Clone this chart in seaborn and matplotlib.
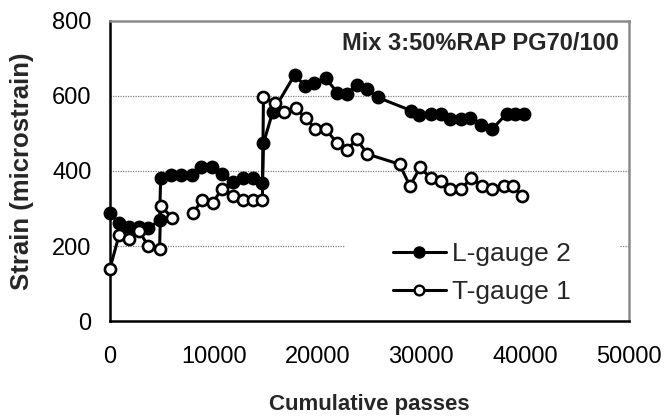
import numpy as np
import pandas as pd
import matplotlib
matplotlib.use("Agg")
import matplotlib.pyplot as plt
from matplotlib.lines import Line2D
from matplotlib.patches import Rectangle
import seaborn as sns

# L-gauge 2 (longitudinal strain)
l_passes = [0, 900, 1900, 2800, 3700, 4800, 4900, 5900, 6900, 7900, 8800, 9800,
            10800, 11900, 12800, 13800, 14700, 14800, 15700, 17800, 18800, 19700,
            20800, 21900, 22800, 23800, 24800, 25800, 29000, 29800, 30900, 31900,
            32800, 33800, 34700, 35700, 36800, 38200, 39000, 39900]
l_strain = [288, 261, 251, 251, 247, 269, 380, 389, 389, 389, 411, 411,
            392, 371, 380, 380, 369, 474, 558, 656, 627, 635,
            647, 609, 605, 629, 618, 596, 561, 549, 552, 552,
            539, 539, 541, 523, 511, 552, 552, 552]

# T-gauge 1 (transverse strain); NaN marks a missing reading
t_passes = [0, 900, 1900, 2800, 3700, 4800, 4900, 6000, 7000, 8000, 8900, 9900,
            10800, 11900, 12800, 13800, 14700, 14800, 15900, 16800, 17900, 18900,
            19800, 20800, 21900, 22800, 23800, 24800, 27900, 28900, 29900, 30900,
            31900, 32800, 33800, 34800, 35800, 36800, 38000, 38800, 39700]
t_strain = [138, 229, 219, 240, 201, 192, 307, 276, np.nan, 287, 323, 314,
            353, 333, 323, 323, 323, 598, 580, 558, 567, 540,
            511, 511, 474, 456, 484, 445, 418, 360, 410, 380,
            372, 352, 352, 380, 361, 352, 361, 361, 333]

x_ticks = [0, 10000, 20000, 30000, 40000, 50000]
y_ticks = [0, 200, 400, 600, 800]

sns.set_theme(style="white")
plt.rcParams["font.family"] = ["Liberation Sans", "DejaVu Sans"]

df_l = pd.DataFrame({"passes": l_passes, "strain": l_strain, "seg": 0})
df_t = pd.DataFrame({"passes": t_passes, "strain": t_strain})
# split the transverse series into runs where a reading is missing
df_t["seg"] = df_t["strain"].isna().cumsum()
df_t = df_t.dropna()

fig = plt.figure(figsize=(6.65, 4.17), dpi=100)
ax = fig.add_axes([0.165, 0.23, 0.781, 0.72])

for y in [200, 400, 600]:
    ax.axhline(y, color="#808080", lw=0.9, ls=(0, (1, 1)), zorder=0)

sns.lineplot(data=df_l, x="passes", y="strain", units="seg", estimator=None,
             sort=False, ax=ax, color="black", lw=2.2, marker="o", markersize=8.5,
             markerfacecolor="black", markeredgecolor="black", markeredgewidth=1.5,
             legend=False, zorder=3, clip_on=False)
sns.lineplot(data=df_t, x="passes", y="strain", units="seg", estimator=None,
             sort=False, ax=ax, color="black", lw=2.2, marker="o", markersize=8,
             markerfacecolor="white", markeredgecolor="black", markeredgewidth=1.9,
             legend=False, zorder=4, clip_on=False)

ax.set_xlim(0, 50000)
ax.set_ylim(0, 800)
ax.set_xticks(x_ticks)
ax.set_yticks(y_ticks)
ax.set_xticklabels([str(v) for v in x_ticks])
ax.set_yticklabels([str(v) for v in y_ticks])
ax.tick_params(axis="both", direction="out", length=7, width=1.2, color="black",
               labelsize=17, labelcolor="black")
ax.tick_params(axis="x", pad=11)
ax.tick_params(axis="y", pad=6)
ax.grid(False)

for side in ["left", "bottom"]:
    ax.spines[side].set_color("black")
    ax.spines[side].set_linewidth(1.8)
for side in ["top", "right"]:
    ax.spines[side].set_visible(True)
    ax.spines[side].set_color("#8a8a8a")
    ax.spines[side].set_linewidth(1.8)

ax.set_xlabel("Cumulative passes", fontsize=16, fontweight="bold", labelpad=19)
ax.set_ylabel("Strain (microstrain)", fontsize=18.5, fontweight="bold", labelpad=13)

ax.text(0.98, 0.925, "Mix 3:50%RAP PG70/100", transform=ax.transAxes,
        ha="right", va="center", fontsize=17, fontweight="bold")

# white legend area covering the lower gridline
ax.add_patch(Rectangle((0.453, 0.006), 0.53, 0.315, transform=ax.transAxes,
                       facecolor="white", edgecolor="none", zorder=1))

handles = [
    Line2D([], [], color="black", lw=2.2, marker="o", markersize=8,
           markerfacecolor="black", markeredgecolor="black"),
    Line2D([], [], color="black", lw=2.2, marker="o", markersize=7,
           markerfacecolor="white", markeredgecolor="black", markeredgewidth=1.7),
]
leg = ax.legend(handles, ["L-gauge 2", "T-gauge 1"], loc="center left",
                bbox_to_anchor=(0.545, 0.16), frameon=False, fontsize=19,
                handlelength=2.0, handletextpad=0.25, labelspacing=0.55,
                borderpad=0.0, borderaxespad=0.0)
leg.set_zorder(5)

fig.savefig("out.png", dpi=100)
